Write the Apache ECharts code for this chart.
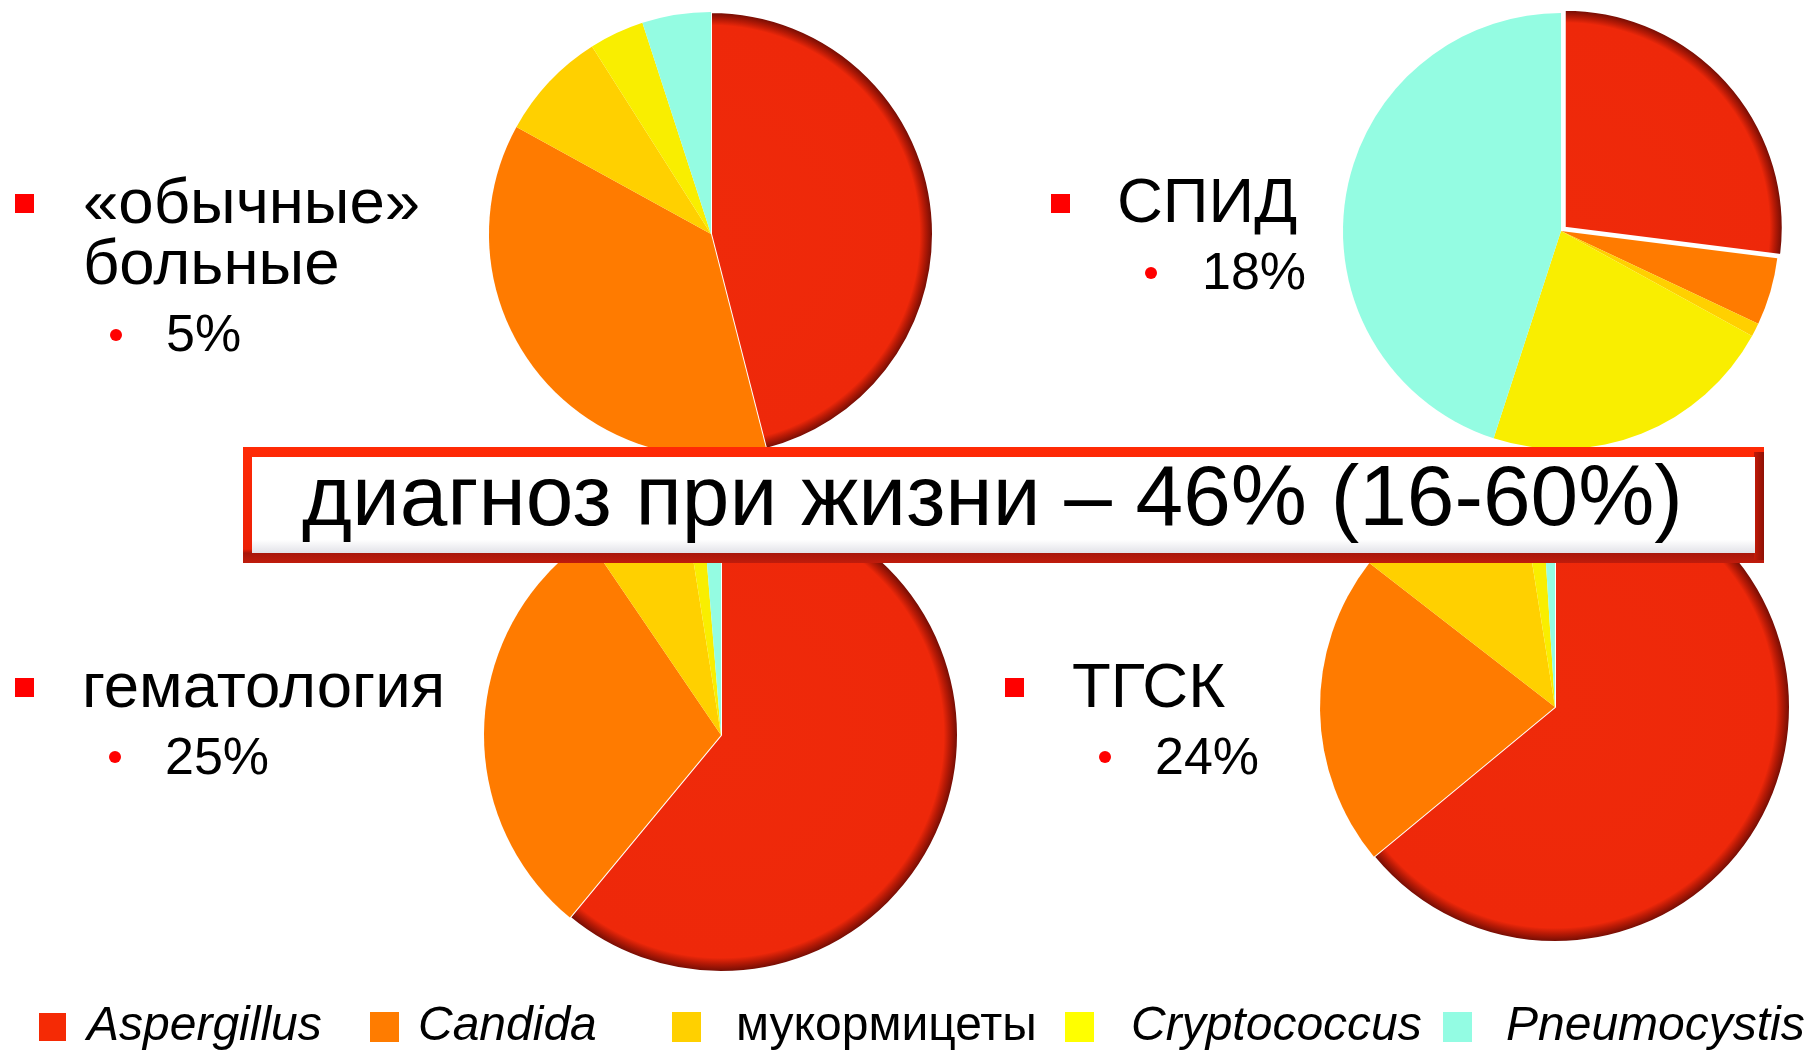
<!DOCTYPE html>
<html>
<head>
<meta charset="utf-8">
<script src="https://cdn.jsdelivr.net/npm/echarts@6/dist/echarts.min.js"></script>
<style>
html,body{margin:0;padding:0;background:#fff;}
#chart{width:1810px;height:1053px;}
</style>
</head>
<body>
<div id="chart"></div>
<script>
// ---- data ----
const categories = ['Aspergillus', 'Candida', 'мукормицеты', 'Cryptococcus', 'Pneumocystis'];
const usualValues = [46, 37, 8, 4, 5];          // «обычные» больные
const aidsValues = [27, 5, 1, 22, 45];          // СПИД
const hematValues = [61, 29.5, 7, 1.2, 1.3];    // гематология
const hsctValues = [64, 21.5, 12, 1.5, 1];      // ТГСК
const groupNames = ['«обычные»\nбольные', 'СПИД', 'гематология', 'ТГСК'];
const groupShares = ['5%', '18%', '25%', '24%'];
const titleText = 'диагноз при жизни – 46% (16-60%)';

// ---- styles ----
const FONT = '"Liberation Sans", Arial, sans-serif';
const pieColors = ['#EE280A', '#FF7B00', '#FFD000', '#F9EE00', '#94FCE2'];
const legendColors = ['#F52A05', '#FF7C00', '#FFD000', '#FFFF00', '#93FCE3'];
const italicLegend = [true, true, false, true, true];
const legendLeft = [37, 370, 672, 1065, 1443];
const legendPad = [15, 14, 30, 32, 29];

function redStyle(c, r) {
  return {
    color: {
      type: 'radial', x: c[0], y: c[1], r: r, global: true,
      colorStops: [
        {offset: 0, color: '#EF2A0A'},
        {offset: 0.94, color: '#EE280A'},
        {offset: 0.965, color: '#B81A06'},
        {offset: 1, color: '#6E0C04'}
      ]
    },
    borderColor: '#ffffff', borderWidth: 2
  };
}

function pieSeries(values, center, r, explode) {
  return {
    type: 'pie', center: center, radius: r, startAngle: 90, clockwise: true,
    z: 2, animation: false, avoidLabelOverlap: false,
    label: {show: false}, labelLine: {show: false},
    emphasis: {disabled: true}, selectedMode: explode ? 'single' : false, selectedOffset: 5,
    data: values.map((v, i) => ({
      name: categories[i], value: v,
      selected: explode && i === 0,
      itemStyle: i === 0 ? redStyle(center, r) : {color: pieColors[i], borderWidth: 0}
    }))
  };
}

const pieLayout = [
  {c: [711, 234], r: 222, v: usualValues, ex: false},
  {c: [1561, 231], r: 218, v: aidsValues, ex: true},
  {c: [721, 735], r: 237, v: hematValues, ex: false},
  {c: [1555, 707], r: 235, v: hsctValues, ex: false}
];

const legends = categories.map((name, i) => ({
  data: [{name: name, itemStyle: {color: legendColors[i]}}],
  left: legendLeft[i], top: 1003, padding: 0,
  orient: 'horizontal', icon: 'rect', itemWidth: 29, itemHeight: 30,
  selectedMode: false,
  textStyle: {fontFamily: FONT, fontSize: 48, color: '#000',
    fontStyle: italicLegend[i] ? 'italic' : 'normal',
    padding: [0, 0, 0, legendPad[i]]}
}));

// annotation positions
const labelPos = [
  {sq: [15, 194], tx: [83, 175], dot: [116, 335], sx: [166, 311]},
  {sq: [1051, 194], tx: [1117, 174], dot: [1151, 273], sx: [1202, 249]},
  {sq: [15, 678], tx: [82, 659], dot: [115, 757], sx: [165, 734]},
  {sq: [1005, 678], tx: [1072, 659], dot: [1105, 757], sx: [1155, 734]}
];

const graphics = [];
labelPos.forEach((p, i) => {
  graphics.push({type: 'rect', shape: {x: p.sq[0], y: p.sq[1], width: 19, height: 19}, style: {fill: '#FF0000'}, z: 50});
  graphics.push({type: 'text', x: p.tx[0], y: p.tx[1], z: 50,
    style: {text: groupNames[i], font: '63.5px ' + FONT, fill: '#000', lineHeight: 61, verticalAlign: 'top', align: 'left'}});
  graphics.push({type: 'circle', shape: {cx: p.dot[0], cy: p.dot[1], r: 6}, style: {fill: '#FF0000'}, z: 50});
  graphics.push({type: 'text', x: p.sx[0], y: p.sx[1], z: 50,
    style: {text: groupShares[i], font: '52px ' + FONT, fill: '#000', lineHeight: 51, verticalAlign: 'top', align: 'left'}});
});

// title box
graphics.push({type: 'rect', z: 100, shape: {x: 243, y: 447, width: 1521, height: 116},
  style: {fill: {type: 'linear', x: 0, y: 0, x2: 0, y2: 1, colorStops: [
    {offset: 0, color: '#FF2A06'}, {offset: 0.88, color: '#EC2006'},
    {offset: 0.915, color: '#A8160A'}, {offset: 1, color: '#C01C0C'}]}}});
graphics.push({type: 'rect', z: 101, shape: {x: 1754, y: 452, width: 10, height: 108},
  style: {fill: {type: 'linear', x: 0, y: 0, x2: 1, y2: 0, colorStops: [
    {offset: 0, color: '#C41A08'}, {offset: 1, color: '#8E1005'}]}}});
graphics.push({type: 'rect', z: 102, shape: {x: 252, y: 457, width: 1503, height: 96},
  style: {fill: {type: 'linear', x: 0, y: 0, x2: 0, y2: 1, colorStops: [
    {offset: 0, color: '#FFFFFF'}, {offset: 0.86, color: '#FFFFFF'}, {offset: 1, color: '#E2E2E8'}]}}});
graphics.push({type: 'text', z: 103, x: 302, y: 459,
  style: {text: titleText, font: '85.6px ' + FONT, fill: '#000', lineHeight: 85, verticalAlign: 'top', align: 'left'}});

const chart = echarts.init(document.getElementById('chart'), null, {renderer: 'canvas'});
chart.setOption({
  backgroundColor: '#ffffff',
  animation: false,
  legend: legends,
  series: pieLayout.map(p => pieSeries(p.v, p.c, p.r, p.ex)),
  graphic: {elements: graphics}
});
</script>
</body>
</html>
